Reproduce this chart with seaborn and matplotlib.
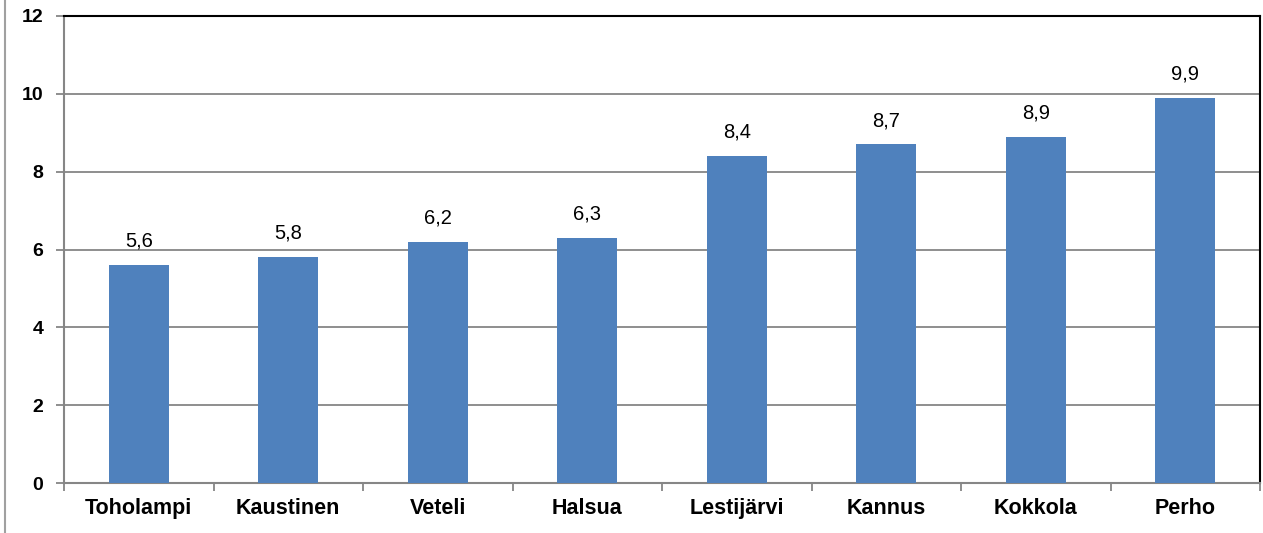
import matplotlib
matplotlib.use("Agg")
import matplotlib.pyplot as plt
from matplotlib.lines import Line2D
import seaborn as sns
import pandas as pd

municipalities = ["Toholampi", "Kaustinen", "Veteli", "Halsua",
                  "Lestijärvi", "Kannus", "Kokkola", "Perho"]
values = [5.6, 5.8, 6.2, 6.3, 8.4, 8.7, 8.9, 9.9]
y_ticks = [0, 2, 4, 6, 8, 10, 12]

df = pd.DataFrame({"kunta": municipalities, "arvo": values})

sns.set_theme(style="white")
plt.rcParams["font.family"] = ["Liberation Sans", "DejaVu Sans"]

fig = plt.figure(figsize=(12.63, 5.33), dpi=100)
ax = fig.add_axes([64 / 1263, 1 - 483 / 533, (1260 - 64) / 1263, (483 - 16) / 533])

sns.barplot(data=df, x="kunta", y="arvo", color="#4F81BD", width=0.4,
            saturation=1, linewidth=0, ax=ax, zorder=3)

ax.set_ylim(0, 12)
ax.set_xlim(-0.5, len(municipalities) - 0.5)
ax.set_yticks(y_ticks)
ax.set_yticklabels([str(t) for t in y_ticks], fontsize=14, fontweight="bold")
ax.set_xticks(range(len(municipalities)))
ax.set_xticklabels(municipalities, fontsize=15.5, fontweight="bold")
ax.set_xlabel("")
ax.set_ylabel("")

# horizontal gridlines
ax.yaxis.grid(True, color="#868686", linewidth=1.3, zorder=0)
ax.set_axisbelow(True)

# frame: gray left/bottom, black top/right
for side in ["left", "bottom"]:
    ax.spines[side].set_color("#868686")
    ax.spines[side].set_linewidth(1.5)
for side in ["top", "right"]:
    ax.spines[side].set_color("black")
    ax.spines[side].set_linewidth(1.5)
    ax.spines[side].set_visible(True)

ax.tick_params(axis="y", direction="out", length=6, width=1.3, color="#868686",
               left=True, pad=9, labelcolor="black")
ax.tick_params(axis="x", which="major", length=0, pad=11, labelcolor="black")
# category separators on the x axis
ax.set_xticks([i - 0.5 for i in range(len(municipalities) + 1)], minor=True)
ax.tick_params(axis="x", which="minor", direction="out", length=6, width=1.3,
               color="#868686", bottom=True)

for i, v in enumerate(values):
    ax.text(i, v + 0.47, f"{v:.1f}".replace(".", ","), ha="center", va="baseline",
            fontsize=14.5, color="black")

# outer border line at the left edge
fig.add_artist(Line2D([5 / 1263, 5 / 1263], [0, 1], color="#a0a0a0", linewidth=1.5))

fig.savefig("out.png", dpi=100)
